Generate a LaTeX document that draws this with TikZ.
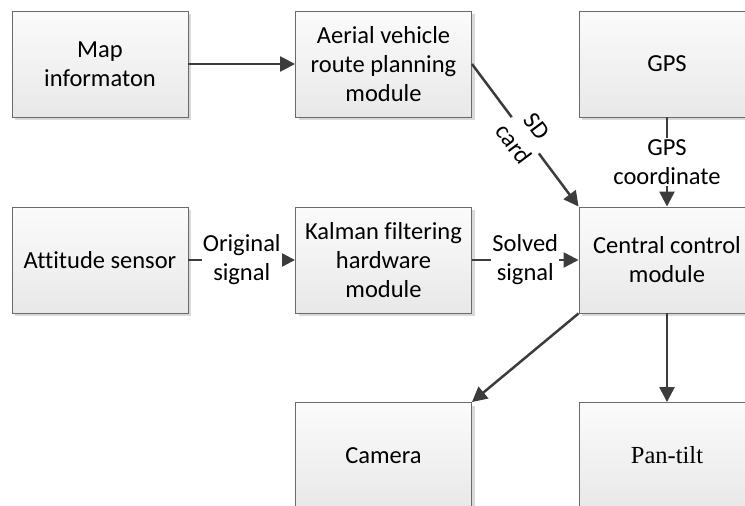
\documentclass[tikz,border=0pt]{standalone}
\usepackage{fontspec}
\setmainfont{Carlito}[Ligatures={NoCommon}]
\newfontfamily\timesfont{Liberation Serif}
\usetikzlibrary{arrows.meta,shadows}
\definecolor{boxline}{HTML}{6A6A6A}
\definecolor{conn}{HTML}{3C3C3C}
\tikzset{
  blk/.style={draw=boxline, line width=0.9pt, minimum width=176pt, minimum height=106pt,
    inner sep=2pt, align=center, top color=white!97!gray, bottom color=black!9,
    drop shadow={shadow xshift=3pt, shadow yshift=-3pt, fill=black!15, opacity=1},
    font=\fontsize{24.5}{29}\selectfont},
  link/.style={draw=conn, line width=2.5pt, -{Triangle[length=15pt,width=15pt]}},
  lbl/.style={fill=white, align=center, inner sep=1pt, font=\fontsize{24.5}{29}\selectfont}
}
\begin{document}
\begin{tikzpicture}[x=1pt,y=-1pt]
\useasboundingbox (0,0) rectangle (745,506);
\clip (0,0) rectangle (745,506);
\node[blk] (map) at (100,64) {Map\\informaton};
\node[blk] (aer) at (383.5,64) {Aerial vehicle\\route planning\\module};
\node[blk] (gps) at (667,64) {GPS};
\node[blk] (att) at (100,260) {Attitude sensor};
\node[blk] (kal) at (383.5,260) {Kalman filtering\\hardware\\module};
\node[blk] (cen) at (667,260) {Central control\\module};
\node[blk] (cam) at (383.5,455.5) {Camera};
\node[blk] (pan) at (667,455.5) {\timesfont Pan-tilt};
\draw[link] (map.east) -- (aer.west);
\draw[link] (aer.east) -- node[lbl, sloped, pos=0.5] {SD\\card} (cen.north west);
\draw[link] (gps.south) -- node[lbl] {GPS\\coordinate} (cen.north);
\draw[link] (att.east) -- node[lbl] {Original\\signal} (kal.west);
\draw[link] (kal.east) -- node[lbl] {Solved\\signal} (cen.west);
\draw[link] (cen.south west) -- (cam.north east);
\draw[link] (cen.south) -- (pan.north);
\end{tikzpicture}
\end{document}
